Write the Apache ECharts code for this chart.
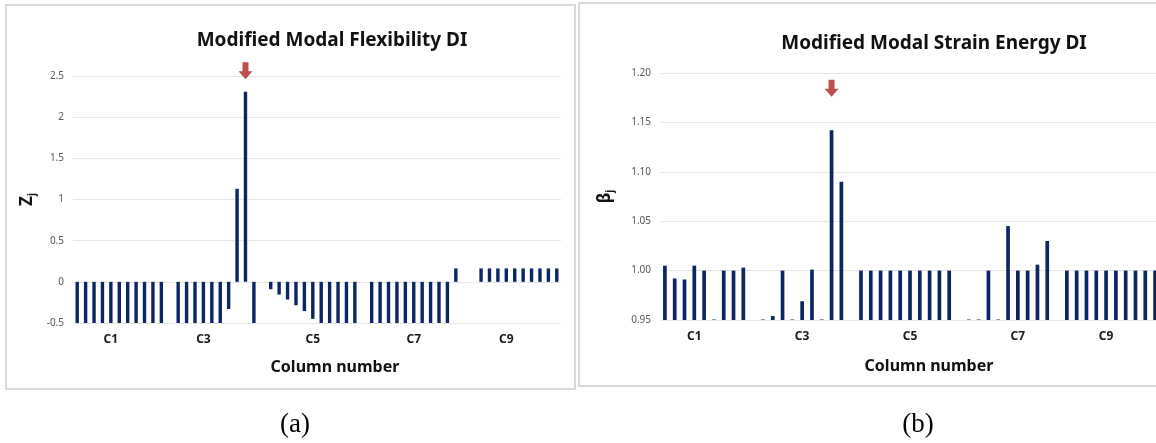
<!DOCTYPE html>
<html>
<head>
<meta charset="utf-8">
<script src="https://cdn.jsdelivr.net/npm/echarts@6/dist/echarts.min.js"></script>
<style>
  html, body { margin: 0; padding: 0; background: #fff; }
  #chart { width: 1156px; height: 443px; }
</style>
</head>
<body>
<div id="chart"></div>
<script>
// (a) Modified Modal Flexibility DI, Zj per element slot (null = no bar)
const flexValues = [
  -0.5, -0.5, -0.5, -0.5, -0.5, -0.5, -0.5, -0.5, -0.5, -0.5, -0.5,
  null,
  -0.5, -0.5, -0.5, -0.5, -0.5, -0.5, -0.33, 1.13, 2.31, -0.5,
  null,
  -0.09, -0.155, -0.215, -0.285, -0.355, -0.45, -0.5, -0.5, -0.5, -0.5, -0.5,
  null,
  -0.5, -0.5, -0.5, -0.5, -0.5, -0.5, -0.5, -0.5, -0.5, -0.5, 0.163,
  null, null,
  0.163, 0.163, 0.163, 0.163, 0.163, 0.163, 0.163, 0.163, 0.163, 0.163
];
// (b) Modified Modal Strain Energy DI, beta j per element slot
const strainValues = [
  1.005, 0.992, 0.991, 1.005, 1.000, 0.9505, 1.000, 1.000, 1.003,
  null,
  0.9505, 0.954, 1.000, 0.9505, 0.969, 1.001, 0.9505, 1.142, 1.090,
  null,
  1.000, 1.000, 1.000, 1.000, 1.000, 1.000, 1.000, 1.000, 1.000, 1.000,
  null,
  0.9505, 0.9505, 1.000, 0.9505, 1.045, 1.000, 1.000, 1.006, 1.030,
  null,
  1.000, 1.000, 1.000, 1.000, 1.000, 1.000, 1.000, 1.000, 1.000, 1.000
];
// column labels and the slot each one sits under
const tickNames = ['C1', 'C3', 'C5', 'C7', 'C9'];
const flexTickPos = [4, 15, 28, 40, 51];
const strainTickPos = [3, 14, 25, 36, 45];
const flexTicks = [2.5, 2, 1.5, 1, 0.5, 0, -0.5];
const strainTicks = [1.20, 1.15, 1.10, 1.05, 1.00, 0.95];
// where the red arrows point (slot, value)
const flexArrow = [19.67, 2.666];
const strainArrow = [16.9, 1.1932];

function buildCats(n, pos) {
  const cats = [];
  for (let i = 0; i < n; i++) {
    const k = pos.indexOf(i);
    cats.push(k >= 0 ? tickNames[k] : '');
  }
  return cats;
}

const barColor = '#0b2663';
const gridColor = '#e6e6e6';
const font = '"Noto Sans", "Open Sans", sans-serif';

function xAxisOf(gridIndex, cats) {
  return {
    type: 'category',
    gridIndex: gridIndex,
    data: cats,
    boundaryGap: true,
    axisLine: { show: false },
    axisTick: { show: false },
    axisLabel: {
      interval: 0,
      margin: 11,
      color: '#1a1a1a',
      fontWeight: 'bold',
      fontSize: 12,
      fontFamily: font
    }
  };
}

function yAxisOf(gridIndex, ticks, digits, nameRich, nameGap) {
  return {
    type: 'value',
    gridIndex: gridIndex,
    min: ticks[ticks.length - 1],
    max: ticks[0],
    interval: Math.abs(ticks[0] - ticks[1]),
    name: nameRich,
    nameLocation: 'middle',
    nameRotate: 90,
    nameGap: nameGap,
    nameTextStyle: {
      rich: {
        b: { fontSize: 17, fontWeight: 'bold', color: '#111', fontFamily: font, lineHeight: 20 },
        s: { fontSize: 10, fontWeight: 'bold', color: '#111', fontFamily: font, lineHeight: 12, verticalAlign: 'bottom' }
      }
    },
    axisLine: { show: false },
    axisTick: { show: false },
    splitLine: { lineStyle: { color: gridColor, width: 1 } },
    axisLabel: {
      margin: 9,
      color: '#595959',
      fontSize: 10,
      fontFamily: font,
      formatter: function (v) { return digits ? v.toFixed(digits) : String(Math.round(v * 10) / 10); }
    }
  };
}

const chart = echarts.init(document.getElementById('chart'), null, { renderer: 'canvas' });

const option = {
  backgroundColor: '#fff',
  animation: false,
  grid: [
    { left: 73, right: 595, top: 76, bottom: 120, outerBoundsMode: 'none' },
    { left: 660, right: -4, top: 73, bottom: 123, outerBoundsMode: 'none' }
  ],
  xAxis: [
    xAxisOf(0, buildCats(flexValues.length, flexTickPos)),
    xAxisOf(1, buildCats(strainValues.length, strainTickPos))
  ],
  yAxis: [
    yAxisOf(0, flexTicks, 0, '{b|Z}{s|j}', 36),
    yAxisOf(1, strainTicks, 2, '{b|β}{s|j}', 45)
  ],
  series: [
    {
      type: 'bar', xAxisIndex: 0, yAxisIndex: 0,
      data: flexValues, barWidth: 3.4,
      itemStyle: { color: barColor }
    },
    {
      type: 'bar', xAxisIndex: 1, yAxisIndex: 1,
      data: strainValues, barWidth: 3.7,
      itemStyle: { color: barColor }
    }
  ]
};
chart.setOption(option);

function arrow(p) {
  const cx = p[0], t = p[1];
  return {
    type: 'polygon',
    silent: true,
    shape: {
      points: [[cx - 3, t], [cx + 3, t], [cx + 3, t + 9], [cx + 7, t + 9],
               [cx, t + 17], [cx - 7, t + 9], [cx - 3, t + 9]]
    },
    style: { fill: '#c0504d' }
  };
}

function label(text, x, y, f, color) {
  return {
    type: 'text', x: x, y: y, silent: true,
    style: { text: text, font: f, fill: color || '#111', align: 'center', verticalAlign: 'middle' }
  };
}

const pa = chart.convertToPixel({ gridIndex: 0 }, flexArrow);
const pb = chart.convertToPixel({ gridIndex: 1 }, strainArrow);

chart.setOption({
  graphic: [
    { type: 'rect', silent: true, shape: { x: 6, y: 5, width: 569, height: 384 },
      style: { fill: 'none', stroke: '#d9d9d9', lineWidth: 2 } },
    { type: 'rect', silent: true, shape: { x: 579, y: 3, width: 600, height: 383 },
      style: { fill: 'none', stroke: '#d9d9d9', lineWidth: 2 } },
    label('Modified Modal Flexibility DI', 332, 41, 'bold 19px ' + font),
    label('Modified Modal Strain Energy DI', 934, 44, 'bold 19px ' + font),
    label('Column number', 335, 367, 'bold 16px ' + font),
    label('Column number', 929, 366, 'bold 16px ' + font),
    label('(a)', 295, 425, '27px "Liberation Serif", "DejaVu Serif", serif', '#000'),
    label('(b)', 918, 425, '27px "Liberation Serif", "DejaVu Serif", serif', '#000'),
    arrow(pa),
    arrow(pb)
  ]
});

window.onresize = () => { chart.resize(); };
</script>
</body>
</html>
